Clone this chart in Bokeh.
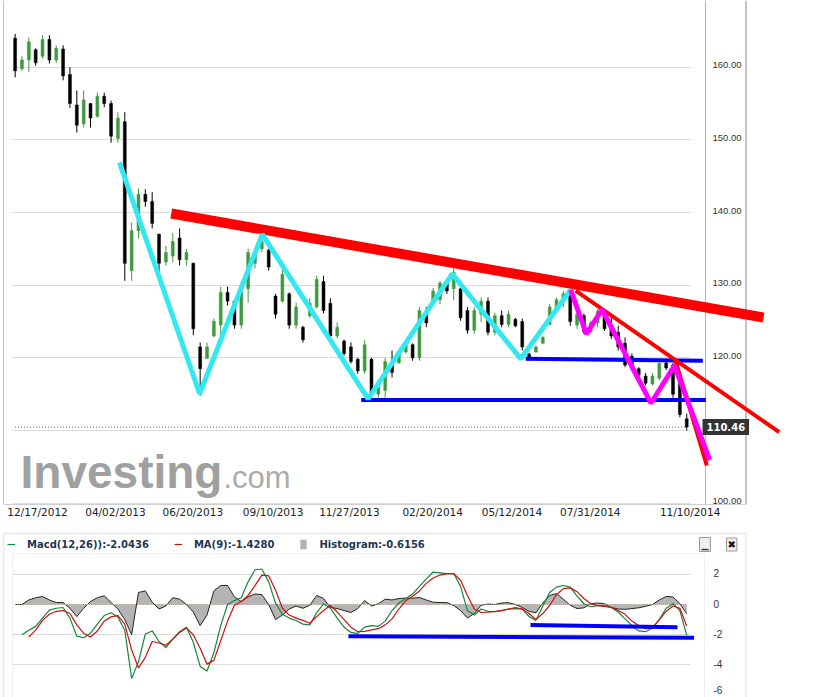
import numpy as np
import pandas as pd
from bokeh.plotting import figure
from bokeh.layouts import column
from bokeh.models import (ColumnDataSource, Range1d, FixedTicker, Span, Label,
                          Legend, LegendItem, BoxAnnotation)
from bokeh.core.properties import value
from bokeh.embed import file_html
from bokeh.resources import INLINE

nan = float("nan")

# ---------------------------------------------------------------- data
first_week = "2012-12-17"
n_weeks = 99
week_start = pd.date_range(first_week, periods=n_weeks, freq="7D")

price_high = [164.6, 161.5, 164.1, 162.6, 164.4, 164.4, 163.0, 163.0, 160.0, 156.8,
              156.8, 155.0, 156.5, 156.5, 155.4, 153.8, 153.8, 138.6, 143.3, 143.2,
              142.8, 137.1, 135.4, 137.2, 137.8, 135.0, 133.1, 122.1, 122.1, 125.4,
              129.8, 129.8, 128.0, 130.4, 135.0, 135.0, 137.2, 135.0, 128.8, 132.3,
              129.0, 127.6, 124.4, 128.2, 131.3, 131.3, 128.2, 124.9, 122.5, 122.1,
              120.0, 122.4, 120.0, 116.5, 120.0, 121.0, 121.0, 122.0, 122.0, 127.0,
              127.0, 129.6, 130.6, 130.6, 132.4, 129.6, 127.0, 127.0, 128.3, 128.3,
              126.2, 126.5, 126.5, 125.5, 125.4, 120.7, 121.7, 123.0, 127.4, 128.3,
              129.2, 129.4, 126.5, 126.1, 125.1, 126.7, 126.5, 125.5, 124.4, 122.8,
              120.6, 118.7, 117.9, 117.9, 119.6, 119.6, 119.3, 117.3, 112.3]
price_low = [158.6, 159.5, 159.3, 160.2, 161.2, 160.5, 160.6, 158.2, 154.4, 151.0,
             151.7, 151.7, 153.1, 154.5, 149.6, 149.6, 130.6, 130.6, 136.4, 140.8,
             137.8, 131.7, 132.7, 133.1, 132.7, 132.7, 123.1, 114.8, 119.9, 122.8,
             122.8, 127.2, 124.0, 124.0, 127.6, 132.3, 134.5, 132.0, 125.4, 127.6,
             124.0, 124.0, 122.1, 125.5, 126.8, 126.1, 122.7, 122.7, 120.3, 119.2,
             117.8, 117.8, 114.5, 114.5, 114.5, 117.3, 119.2, 120.6, 119.6, 119.6,
             124.2, 127.4, 127.4, 128.8, 127.9, 125.1, 123.3, 123.3, 124.9, 123.1,
             123.1, 124.2, 124.2, 124.2, 121.0, 119.6, 120.7, 121.9, 124.5, 126.1,
             127.0, 124.4, 124.0, 123.3, 123.3, 124.2, 123.7, 122.6, 121.0, 118.7,
             118.7, 117.3, 116.2, 116.2, 116.9, 118.3, 114.5, 111.8, 110.0]
price_open = [164.0, 159.8, 161.0, 162.4, 161.5, 163.8, 161.0, 162.5, 159.0, 154.8,
              152.2, 155.0, 153.2, 156.0, 155.0, 150.2, 152.5, 132.0, 137.5, 142.5,
              141.5, 137.0, 133.2, 134.0, 136.5, 133.5, 133.0, 121.5, 119.9, 123.0,
              124.5, 129.0, 127.8, 124.5, 129.5, 133.0, 135.0, 134.8, 128.5, 127.8,
              128.8, 124.5, 124.2, 125.8, 127.0, 130.5, 127.5, 123.0, 122.3, 121.5,
              119.8, 118.2, 119.8, 115.0, 115.5, 119.0, 119.3, 120.8, 121.8, 120.0,
              126.0, 127.5, 128.0, 130.3, 129.5, 129.5, 126.5, 123.8, 126.0, 127.8,
              123.5, 125.8, 124.6, 125.3, 125.0, 120.5, 120.8, 122.0, 124.6, 126.5,
              127.8, 129.0, 124.5, 125.8, 123.6, 124.8, 126.3, 124.5, 123.5, 122.0,
              120.2, 118.5, 117.5, 116.4, 117.2, 119.3, 119.0, 116.5, 111.6]
price_close = [159.5, 161.0, 163.5, 160.6, 163.8, 161.0, 162.6, 158.8, 155.0, 152.0,
               155.5, 153.0, 156.0, 155.0, 150.5, 153.0, 133.0, 137.5, 142.5, 141.5,
               138.5, 133.0, 134.5, 136.0, 133.5, 134.5, 124.0, 118.5, 121.5, 125.0,
               129.0, 127.8, 124.5, 130.0, 134.5, 134.5, 136.0, 132.5, 126.0, 131.5,
               124.5, 127.0, 122.5, 127.5, 130.8, 126.5, 123.0, 124.2, 120.6, 119.5,
               118.2, 121.8, 115.0, 116.0, 119.5, 118.0, 120.8, 121.8, 120.0, 126.5,
               124.8, 129.2, 130.3, 129.2, 131.8, 125.5, 123.8, 126.5, 127.8, 123.5,
               125.8, 124.6, 126.0, 124.4, 121.5, 119.9, 121.5, 122.8, 127.0, 128.0,
               128.8, 125.0, 126.0, 123.6, 124.8, 126.4, 124.0, 123.0, 121.5, 119.0,
               119.0, 117.6, 116.5, 117.5, 119.2, 118.6, 115.0, 112.2, 110.46]
last_price = 110.46

macd_line = [nan, -2.0, -1.7, -1.45, -0.9, -0.37, -0.25, -0.2, -0.9, -2.1,
             -2.2, -1.9, -1.3, -0.73, -0.55, -0.85, -1.7, -4.9, -3.8, -1.95,
             -1.75, -2.45, -2.85, -2.3, -1.8, -1.5, -2.5, -4.1, -4.4, -3.2,
             -1.4, 0.0, 0.26, 0.45, 1.5, 2.3, 2.35, 1.5, 0.1, -0.65,
             -0.9, -1.06, -1.3, -1.35, -0.55, 0.05, -0.25, -0.9, -1.5, -1.85,
             -1.93, -1.5, -1.4, -1.45, -1.1, -0.4, 0.1, 0.4, 0.7, 1.2,
             1.7, 2.15, 2.1, 2.05, 2.05, 1.2, -0.4, -0.7, -0.3, -0.45,
             -0.48, -0.4, -0.3, -0.27, -0.3, -0.8, -1.05, -0.1, 0.8, 1.15,
             1.26, 1.15, 0.55, 0.05, -0.15, -0.07, -0.07, -0.2, -0.5, -0.95,
             -1.4, -1.75, -1.8, -1.55, -1.0, -0.25, 0.05, -0.4, -2.0436]
signal_line = [nan, nan, -2.15, -1.7, -1.05, -0.65, -0.45, -0.4, -0.6, -1.35,
               -1.9, -2.15, -1.75, -1.1, -0.82, -0.73, -1.3, -3.0, -4.2, -3.5,
               -2.45, -2.55, -2.7, -2.3, -1.85, -1.55, -2.0, -2.9, -3.95, -3.7,
               -2.4, -1.1, -0.05, 0.2, 0.6, 1.25, 1.95, 1.9, 0.95, -0.25,
               -0.7, -0.9, -1.05, -1.24, -0.8, -0.4, -0.07, -0.5, -1.0, -1.5,
               -1.8, -1.78, -1.68, -1.6, -1.35, -0.95, -0.3, 0.25, 0.55, 0.9,
               1.4, 1.75, 1.95, 2.05, 2.05, 1.6, 0.6, -0.3, -0.53, -0.5,
               -0.46, -0.4, -0.3, -0.2, -0.3, -0.6, -1.0, -0.6, -0.05, 0.65,
               1.05, 1.1, 0.85, 0.4, 0.05, -0.07, -0.12, -0.2, -0.4, -0.65,
               -1.1, -1.4, -1.6, -1.55, -1.0, -0.45, -0.1, -0.25, -1.428]
histogram = [0.0, 0.0, 0.3, 0.45, 0.53, 0.3, 0.13, 0.13, -0.25, -0.8,
             -0.25, 0.2, 0.45, 0.58, 0.13, -0.3, -1.0, -2.0, 0.8, 0.9,
             0.15, -0.3, -0.1, 0.45, 0.35, 0.0, -0.5, -1.4, -0.7, 0.9,
             1.26, 1.26, 0.5, 0.2, 0.5, 0.7, 0.65, 0.0, -1.0, -0.7,
             -0.3, -0.1, -0.25, -0.05, 0.6, 0.4, -0.2, -0.27, -0.4, -0.53,
             -0.27, 0.26, -0.1, 0.05, 0.35, 0.3, 0.4, 0.42, 0.42, 0.46,
             0.3, 0.15, 0.13, 0.13, -0.07, -0.4, -0.9, -0.6, -0.05, 0.03,
             0.0, 0.1, 0.12, 0.0, -0.2, -0.45, -0.55, 0.1, 0.6, 0.72,
             0.35, -0.05, -0.27, -0.22, 0.05, 0.1, 0.05, -0.2, -0.3, -0.32,
             -0.27, -0.22, -0.12, 0.0, 0.3, 0.53, 0.5, 0.05, -0.6156]

x_tick_dates = ["2012-12-17", "2013-04-02", "2013-06-20", "2013-09-10", "2013-11-27",
                "2014-02-20", "2014-05-12", "2014-07-31", "2014-11-10"]
x_tick_labels = ["12/17/2012", "04/02/2013", "06/20/2013", "09/10/2013", "11/27/2013",
                 "02/20/2014", "05/12/2014", "07/31/2014", "11/10/2014"]
price_ticks = [100, 110, 120, 130, 140, 150, 160]
macd_ticks = [2, 0, -2, -4, -6]
macd_grid_ticks = [2, -2, -4]

legend_macd = "Macd(12,26)):-2.0436"
legend_ma = "MA(9):-1.4280"
legend_hist = "Histogram:-0.6156"
watermark_main = "Investing"
watermark_tail = ".com"

# hand-drawn study lines on the price chart (date, price)
cyan_dates = ["2013-04-06", "2013-06-27", "2013-08-30", "2013-12-16",
              "2014-03-12", "2014-05-21", "2014-07-11"]
cyan_prices = [146.9, 115.05, 137.0, 114.35, 131.56, 119.86, 129.36]
magenta_dates = ["2014-07-11", "2014-07-27", "2014-08-12", "2014-10-01",
                 "2014-10-25", "2014-11-30"]
magenta_prices = [129.36, 123.3, 126.65, 113.75, 118.94, 105.9]
red_thick_dates = ["2013-05-29", "2015-01-24"]
red_thick_prices = [139.86, 125.54]
red_thin_dates = ["2014-07-16", "2015-02-09"]
red_thin_prices = [129.26, 109.76]
red_steep_dates = ["2014-10-26", "2014-11-27"]
red_steep_prices = [119.63, 105.17]
blue_low_dates = ["2013-12-09", "2014-11-26"]
blue_low_prices = [114.2, 114.2]
blue_mid_dates = ["2014-05-26", "2014-11-23"]
blue_mid_prices = [119.86, 119.6]
# hand-drawn lines on the MACD pane
macd_blue_long_dates = ["2013-11-26", "2014-11-14"]
macd_blue_long_vals = [-2.1, -2.2]
macd_blue_short_dates = ["2014-05-31", "2014-10-28"]
macd_blue_short_vals = [-1.35, -1.5]

# ---------------------------------------------------------------- layout helpers
DAY_MS = 86400000.0
T0 = pd.Timestamp(first_week).value / 1e6
PX_PER_DAY = 0.979
X_T0 = 11.2          # page x of the first date
W = 816
TOP_H = 524
BOT_H = 173


def page_x(px):
    return T0 + (px - X_T0) / PX_PER_DAY * DAY_MS


def price_at(py):
    return 160 + (66.7 - py) / 7.265


def macd_at(py):
    return (604 - py) / 15.1


def ms(d):
    return int(pd.Timestamp(d).value // 10**6)


FONT_AX = "DejaVu Sans"
FONT_NUM = "Liberation Sans"
shared_x = Range1d(page_x(0), page_x(W))

# ---------------------------------------------------------------- price pane
top = figure(width=W, height=TOP_H, x_axis_type="datetime", y_axis_location=None,
             x_range=shared_x, y_range=Range1d(price_at(504), price_at(0)),
             output_backend="svg", toolbar_location=None,
             min_border_left=0, min_border_right=0, min_border_top=0, min_border_bottom=20,
             background_fill_color="white", border_fill_color="white")
top.outline_line_color = None
top.xgrid.visible = False
top.ygrid.ticker = FixedTicker(ticks=price_ticks)
top.ygrid.grid_line_color = "#dcdcdc"
top.ygrid.cross_bounds = (page_x(12), page_x(690))

raw_ticks = [ms(d) for d in x_tick_dates]
min_tick = int(page_x(37))
tick_ms = [max(t, min_tick) for t in raw_ticks]
xa = top.xaxis[0]
xa.ticker = FixedTicker(ticks=tick_ms)
xa.major_label_overrides = {t: lab for t, lab in zip(tick_ms, x_tick_labels)}
xa.major_tick_out = 0
xa.major_tick_in = 0
xa.minor_tick_out = 0
xa.minor_tick_in = 0
xa.axis_line_color = "#cfcfcf"
xa.bounds = (page_x(3), page_x(745))
xa.major_label_standoff = 1
xa.major_label_text_font = FONT_AX
xa.major_label_text_font_size = "10.5px"
xa.major_label_text_color = "#222222"

# panel frame lines
for px, col, lw in [(3, "#c4c4c4", 1), (705, "#b4b4b4", 1), (745.5, "#c4c4c4", 2)]:
    top.add_layout(Span(location=page_x(px), dimension="height", line_color=col,
                        line_width=lw, level="underlay"))

# watermark (vertical centre of the cap height at page y ~471)
top.add_layout(Label(x=page_x(20), y=price_at(471), text=watermark_main,
                     text_font=FONT_NUM, text_font_size="46px", text_font_style="bold",
                     text_color="#a0a0a0", text_baseline="middle", level="underlay"))
top.add_layout(Label(x=page_x(223), y=price_at(477), text=watermark_tail,
                     text_font=FONT_NUM, text_font_size="31px",
                     text_color="#acacac", text_baseline="middle", level="underlay"))

# candles (weekly)
bar_t = week_start + pd.Timedelta(hours=84)
up = [c >= o for o, c in zip(price_open, price_close)]
src = ColumnDataSource(dict(
    t=bar_t, hi=price_high, lo=price_low,
    btop=np.maximum(price_open, price_close), bbot=np.minimum(price_open, price_close),
    bar_color=["#3f9a3f" if u else "#000000" for u in up]))
top.segment(x0="t", y0="lo", x1="t", y1="hi", source=src, line_color="bar_color", line_width=1)
top.vbar(x="t", width=3 * DAY_MS, top="btop", bottom="bbot", source=src,
         fill_color="bar_color", line_color="bar_color", line_width=0.5)

# last price dotted line
top.segment(x0=[bar_t[0]], y0=[last_price], x1=[bar_t[-1]], y1=[last_price],
            line_color="#555555", line_dash="1 2", line_width=1)

# study lines
top.line(pd.to_datetime(red_thick_dates), red_thick_prices, line_color="#ff0000", line_width=10)
top.line(pd.to_datetime(blue_low_dates), blue_low_prices, line_color="#0000ff", line_width=4)
top.line(pd.to_datetime(blue_mid_dates), blue_mid_prices, line_color="#0000ff", line_width=4)
top.line(pd.to_datetime(cyan_dates), cyan_prices, line_color="#33e8f0", line_width=5)
top.line(pd.to_datetime(red_thin_dates), red_thin_prices, line_color="#ff0000", line_width=4)
top.line(pd.to_datetime(red_steep_dates), red_steep_prices, line_color="#ff0000", line_width=4)
top.line(pd.to_datetime(magenta_dates), magenta_prices, line_color="#ff00ff", line_width=5)

# price scale labels (inside the wide frame so the study lines can cross the scale)
top.text(x=[page_x(712)] * len(price_ticks), y=price_ticks,
         text=[f"{v:.2f}" for v in price_ticks],
         text_font=value(FONT_NUM), text_font_size="9.5px", text_color="#333333",
         text_baseline="middle", text_align="left", y_offset=-2)

# last price tag
top.add_layout(Label(x=page_x(702), y=last_price, text=f"{last_price:.2f}",
                     text_font=FONT_AX, text_font_size="10px", text_font_style="bold",
                     text_color="white", text_baseline="middle", text_align="left",
                     background_fill_color="#333333", padding=4))

# ---------------------------------------------------------------- MACD pane
bot = figure(width=W, height=BOT_H, x_axis_type="datetime",
             x_axis_location=None, y_axis_location=None,
             x_range=shared_x, y_range=Range1d(macd_at(TOP_H + BOT_H), macd_at(531)),
             output_backend="svg", toolbar_location=None,
             min_border_left=0, min_border_right=0, min_border_top=7, min_border_bottom=0,
             background_fill_color="white", border_fill_color="white")
bot.outline_line_color = None
bot.xgrid.visible = False
bot.ygrid.ticker = FixedTicker(ticks=macd_grid_ticks)
bot.ygrid.grid_line_color = "#dcdcdc"
bot.ygrid.cross_bounds = (page_x(12), page_x(690))

# pane boxes
bot.add_layout(BoxAnnotation(left=page_x(3), right=page_x(745.5), top=macd_at(533),
                             bottom=macd_at(720), fill_alpha=0, line_color="#c4c4c4",
                             line_width=2, level="underlay"))
bot.add_layout(BoxAnnotation(left=page_x(12), right=page_x(704), top=macd_at(553),
                             bottom=macd_at(720), fill_alpha=0, line_color="#cccccc",
                             line_width=1, level="underlay"))

msrc = ColumnDataSource(dict(t=bar_t, macd=macd_line, sig=signal_line, hist=histogram,
                             zero=[0.0] * n_weeks))
r_hist = bot.varea(x="t", y1="zero", y2="hist", source=msrc, fill_color="#b4b4b4")
bot.line(x="t", y="hist", source=msrc, line_color="#222222", line_width=1)
bot.segment(x0=[bar_t[0]], y0=[0], x1=[bar_t[-1]], y1=[0],
            line_color="#ff7070", line_dash="1 1", line_width=1)
r_macd = bot.line(x="t", y="macd", source=msrc, line_color="#17853a", line_width=1.2)
r_sig = bot.line(x="t", y="sig", source=msrc, line_color="#d01010", line_width=1.2)
bot.line(pd.to_datetime(macd_blue_long_dates), macd_blue_long_vals, line_color="#0000ff", line_width=4)
bot.line(pd.to_datetime(macd_blue_short_dates), macd_blue_short_vals, line_color="#0000ff", line_width=4)

# MACD scale labels (the lowest one lifted a little so it stays on the page)
bot.text(x=[page_x(713)] * len(macd_ticks), y=macd_ticks, text=[str(v) for v in macd_ticks],
         text_font=value(FONT_NUM), text_font_size="10px", text_color="#333333",
         text_baseline="middle", text_align="left",
         y_offset=[-1, -1, -1, -1, -5])

# pane buttons
bot.add_layout(Label(x=page_x(699), y=macd_at(544), text="\u2581", text_font=FONT_AX,
                     text_font_size="9px", text_color="#333333", text_baseline="middle",
                     background_fill_color="#eeeeee", border_line_color="#999999", padding=2))
bot.add_layout(Label(x=page_x(726), y=macd_at(544), text="\u2716", text_font=FONT_AX,
                     text_font_size="10px", text_color="#111111", text_baseline="middle",
                     background_fill_color="#eeeeee", border_line_color="#999999", padding=1))

legend = Legend(items=[LegendItem(label=legend_macd, renderers=[r_macd]),
                       LegendItem(label=legend_ma, renderers=[r_sig]),
                       LegendItem(label=legend_hist, renderers=[r_hist])],
                orientation="horizontal", location="top_left",
                glyph_width=8, glyph_height=12, label_height=12, label_standoff=12,
                spacing=25, padding=0, margin=7,
                border_line_color=None, background_fill_alpha=0,
                label_text_font=FONT_AX, label_text_font_size="10px",
                label_text_font_style="bold", label_text_color="#1f3550")
bot.add_layout(legend, "center")

layout = column(top, bot)
open("out.html", "w").write(file_html(layout, INLINE))
